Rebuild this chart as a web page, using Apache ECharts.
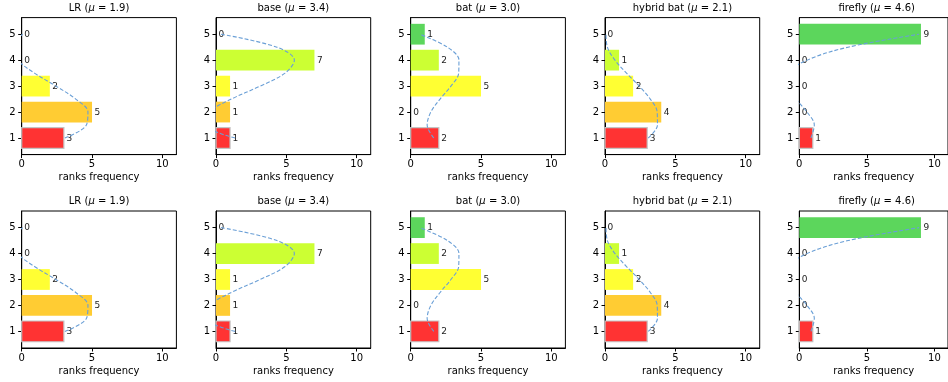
<!DOCTYPE html>
<html>
<head>
<meta charset="utf-8">
<script src="https://cdn.jsdelivr.net/npm/echarts@6/dist/echarts.min.js"></script>
<style>html,body{margin:0;padding:0;background:#fff;}#c{width:948px;height:382px;}</style>
</head>
<body>
<div id="c"></div>
<script>
// ---- data ----
const ranks = [1, 2, 3, 4, 5];
const panelNames = ['LR', 'base', 'bat', 'hybrid bat', 'firefly'];
const muValues = ['1.9', '3.4', '3.0', '2.1', '4.6'];
const lrFreq = [3, 5, 2, 0, 0];
const baseFreq = [1, 1, 1, 7, 0];
const batFreq = [2, 0, 5, 2, 1];
const hybridFreq = [3, 4, 2, 1, 0];
const fireflyFreq = [1, 0, 0, 0, 9];
// dashed trend curve, read at ranks 1, 1.5, ..., 5
const curveRanks = [1, 1.5, 2, 2.5, 3, 3.5, 4, 4.5, 5];
const lrCurve = [3.07, 4.60, 4.71, 3.84, 2.43, 0.91, -0.29, -0.71, 0.07];
const baseCurve = [1.36, -0.61, -0.43, 1.09, 3.14, 4.91, 5.57, 4.33, 0.36];
const batCurve = [1.64, 1.17, 1.43, 2.09, 2.86, 3.41, 3.43, 2.61, 0.64];
const hybridCurve = [3.07, 3.73, 3.71, 3.22, 2.43, 1.53, 0.71, 0.17, 0.07];
const fireflyCurve = [0.86, 1.11, 0.57, -0.25, -0.86, -0.75, 0.57, 3.61, 8.86];
const xTicks = [0, 5, 10];
const yTicks = [1, 2, 3, 4, 5];
const xLabel = 'ranks frequency';

const freqs = [lrFreq, baseFreq, batFreq, hybridFreq, fireflyFreq];
const curves = [lrCurve, baseCurve, batCurve, hybridCurve, fireflyCurve];
const rankColors = ['#ff3333', '#ffcc33', '#ffff33', '#ccff33', '#5cd65c'];

// ---- layout ----
const colLeft = [21.7, 216, 410.7, 605, 799.3];
const gridW = 154.7;
const rowTop = [17.6, 211];
const gridH = 137;
const FONT = 'DejaVu Sans';

const grids = [], xAxes = [], yAxes = [], series = [], titles = [];
let gi = 0;
for (let r = 0; r < 2; r++) {
  for (let c = 0; c < 5; c++) {
    grids.push({left: colLeft[c], top: rowTop[r], width: gridW, height: gridH,
      show: true, borderColor: '#000', borderWidth: 1, backgroundColor: 'transparent', containLabel: false});
    xAxes.push({type: 'value', gridIndex: gi, min: 0, max: 11,
      splitLine: {show: false},
      axisLine: {show: true, onZero: false, lineStyle: {color: '#000', width: 1}},
      axisTick: {show: true, customValues: xTicks, length: 3.5, lineStyle: {color: '#000', width: 1}},
      axisLabel: {show: true, customValues: xTicks, fontSize: 10, color: '#000', margin: 5, fontFamily: FONT},
      name: xLabel, nameLocation: 'middle', nameGap: 18,
      nameTextStyle: {fontSize: 10, color: '#000', fontFamily: FONT, verticalAlign: 'top'}});
    yAxes.push({type: 'value', gridIndex: gi, min: 0.36, max: 5.64,
      splitLine: {show: false},
      axisLine: {show: true, onZero: false, lineStyle: {color: '#000', width: 1}},
      axisTick: {show: true, customValues: yTicks, length: 3.5, lineStyle: {color: '#000', width: 1}},
      axisLabel: {show: true, customValues: yTicks, fontSize: 10, color: '#000', margin: 6, fontFamily: FONT}});
    const fr = freqs[c];
    series.push({type: 'custom', xAxisIndex: gi, yAxisIndex: gi,
      data: ranks.map((rk, i) => [fr[i], rk, i]),
      renderItem: function (params, api) {
        const v = api.value(0), rk = api.value(1), ci = api.value(2);
        const p0 = api.coord([0, rk]);
        const p1 = api.coord([v, rk]);
        const h = api.size([0, 0.8])[1];
        const children = [];
        if (v > 0) {
          children.push({type: 'rect',
            shape: {x: p0[0], y: p0[1] - h / 2, width: p1[0] - p0[0], height: h},
            style: {fill: rankColors[ci], stroke: ci === 0 ? '#c4c4c4' : null, lineWidth: ci === 0 ? 1.2 : 0}});
        }
        children.push({type: 'text', z2: 10,
          style: {text: String(v), x: p1[0] + 2.5, y: p1[1] + 0.5, align: 'left', verticalAlign: 'middle',
            fontSize: 9, fill: '#222', fontFamily: FONT}});
        return {type: 'group', children: children};
      },
      z: 2});
    const cv = curves[c];
    series.push({type: 'line', xAxisIndex: gi, yAxisIndex: gi,
      data: curveRanks.map((rk, i) => [cv[i], rk]),
      smooth: 0.35, showSymbol: false, symbol: 'none', clip: true,
      lineStyle: {color: '#6a9fd6', width: 1.1, type: [4, 2]},
      z: 3, silent: true, animation: false});
    titles.push({text: panelNames[c] + ' ({i|μ} = ' + muValues[c] + ')',
      left: colLeft[c] + gridW / 2, top: rowTop[r] - 14.5, textAlign: 'center', padding: 0,
      textStyle: {fontSize: 10, fontWeight: 'normal', color: '#000', fontFamily: FONT,
        rich: {i: {fontStyle: 'italic', fontSize: 10, color: '#000', fontFamily: FONT}}}});
    gi++;
  }
}

const chart = echarts.init(document.getElementById('c'), null, {renderer: 'canvas'});
chart.setOption({
  animation: false,
  backgroundColor: '#fff',
  title: titles,
  grid: grids,
  xAxis: xAxes,
  yAxis: yAxes,
  series: series
});
</script>
</body>
</html>
